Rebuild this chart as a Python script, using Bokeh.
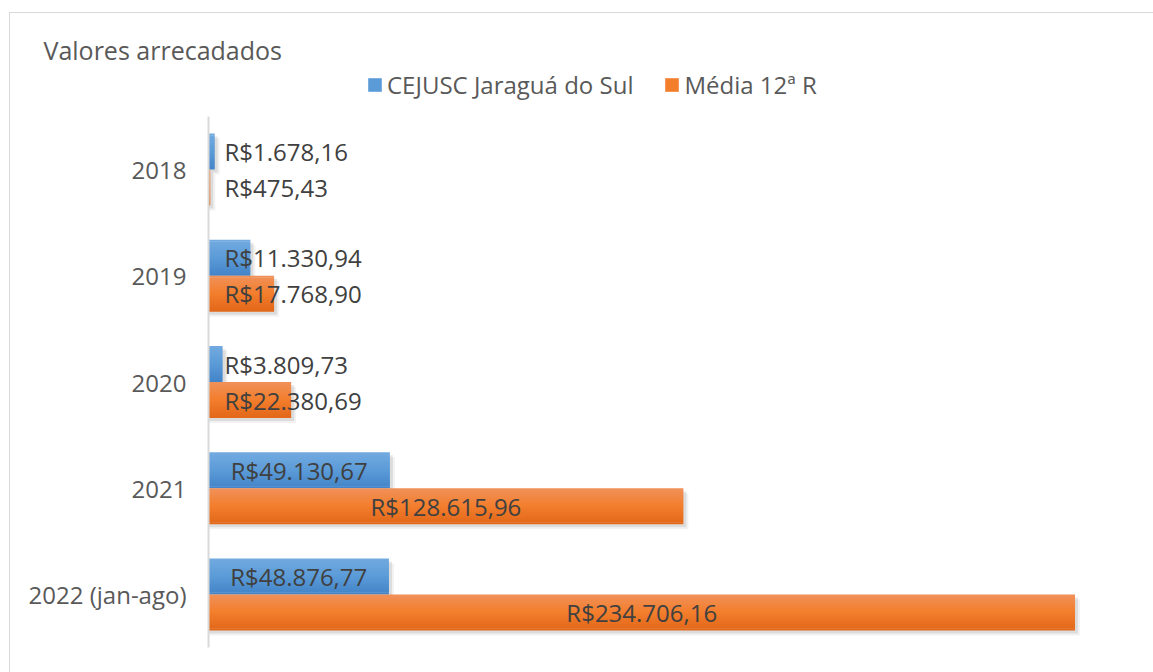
from bokeh.plotting import figure
from bokeh.layouts import column
from bokeh.models import (FactorRange, Range1d, ColumnDataSource, Legend,
                          LegendItem, Label)
from bokeh.core.properties import value
from bokeh.transform import dodge
from bokeh.embed import file_html
from bokeh.resources import INLINE

# ---------------- data ----------------
categories = ["2018", "2019", "2020", "2021", "2022 (jan-ago)"]
cejusc = [1678.16, 11330.94, 3809.73, 49130.67, 48876.77]
media = [475.43, 17768.90, 22380.69, 128615.96, 234706.16]
series_names = ["CEJUSC Jaraguá do Sul", "Média 12ª R"]
title_text = "Valores arrecadados"

# ---------------- layout (page pixels) ----------------
OX, OY = 10, 13                 # content origin inside the chart outline
W = 1153 - OX
TOP_H = 116 - OY                # header strip (title + legend)
H = 672 - 116                   # plot strip
ML, MT = 208 - OX, 0
MR, MB = W - (1131 - OX), 672 - 647
XMAX = 250000
FRAME_W = W - ML - MR
FRAME_H = H - MT - MB
UPP = XMAX / FRAME_W
BAND_PX = FRAME_H / len(categories)
BAR_H = 36 / BAND_PX
FONT = "Open Sans"
TEXT = "#595959"

def brl(v):
    s = f"{v:,.2f}"
    return "R$" + s.replace(",", "_").replace(".", ",").replace("_", ".")

def hex2rgb(h):
    h = h.lstrip("#")
    return [int(h[i:i + 2], 16) for i in (0, 2, 4)]

def grad(stops, n):
    out = []
    for i in range(n):
        t = i / (n - 1)
        seg = min(int(t * (len(stops) - 1)), len(stops) - 2)
        lt = t * (len(stops) - 1) - seg
        a, b = hex2rgb(stops[seg]), hex2rgb(stops[seg + 1])
        c = [round(a[k] + (b[k] - a[k]) * lt) for k in range(3)]
        out.append("#%02x%02x%02x" % tuple(c))
    return out

blue_stops = ["#72aae0", "#5b9bd8", "#4485c9"]
orange_stops = ["#f09058", "#f37e2c", "#e3681a"]

# ---------------- header: title + legend ----------------
head = figure(width=W, height=TOP_H, x_range=Range1d(0, W), y_range=Range1d(TOP_H, 0),
              output_backend="svg", toolbar_location=None, title_location=None,
              x_axis_location=None, y_axis_location=None,
              min_border=0, min_border_left=0, min_border_right=0,
              min_border_top=0, min_border_bottom=0)
head.frame_align = False
head.outline_line_color = None
head.xgrid.visible = False
head.ygrid.visible = False
head.background_fill_color = "white"
head.border_fill_color = "white"

head.add_layout(Label(x=43 - OX, y=49 - OY, text=title_text, text_font=FONT,
                      text_font_size="25px", text_color=TEXT,
                      text_baseline="alphabetic"))

# legend swatches (zero-size marks only used for the legend glyphs)
leg_r = []
for stops in (blue_stops, orange_stops):
    leg_r.append(head.quad(left=[0], right=[0], top=[0], bottom=[0],
                           fill_color=grad(stops, 3)[1], line_color=None))
GW = 17
legend = Legend(items=[LegendItem(label=series_names[0], renderers=[leg_r[0]]),
                       LegendItem(label=series_names[1], renderers=[leg_r[1]])],
                orientation="horizontal", location=(366 - OX, TOP_H - (85 - OY) - 16),
                glyph_width=GW, glyph_height=GW, label_standoff=4, spacing=30,
                padding=0, margin=0, border_line_color=None,
                background_fill_alpha=0,
                label_text_font=FONT, label_text_font_size="24px",
                label_text_color=TEXT)
head.add_layout(legend)

# ---------------- bars ----------------
p = figure(width=W, height=H,
           y_range=FactorRange(factors=categories[::-1], range_padding=0),
           x_range=Range1d(0, XMAX),
           output_backend="svg", toolbar_location=None, title_location=None,
           min_border_left=ML, min_border_right=MR,
           min_border_top=MT, min_border_bottom=MB)
p.frame_align = False
p.outline_line_color = None
p.background_fill_color = "white"
p.border_fill_color = "white"
p.xgrid.visible = False
p.ygrid.visible = False
p.xaxis.visible = False

yax = p.yaxis[0]
yax.axis_line_color = "#d9d9d9"
yax.axis_line_width = 2
yax.major_tick_line_color = None
yax.minor_tick_line_color = None
yax.major_tick_out = 0
yax.major_tick_in = 0
yax.major_label_standoff = 22
yax.major_label_text_font = FONT
yax.major_label_text_font_size = "24px"
yax.major_label_text_color = TEXT

series = [(cejusc, BAR_H / 2, blue_stops), (media, -BAR_H / 2, orange_stops)]
N = 18

for vals, off, _ in series:
    for dpx, alpha in ((5, 0.05), (3, 0.09)):
        src = ColumnDataSource(dict(cat=categories,
                                    r=[v + dpx * UPP for v in vals]))
        p.hbar(y=dodge("cat", off - dpx / BAND_PX, range=p.y_range),
               left=0, right="r", height=BAR_H, source=src,
               fill_color="#000000", fill_alpha=alpha, line_color=None)

for vals, off, stops in series:
    cols = grad(stops, N)
    src = ColumnDataSource(dict(cat=categories, val=vals))
    for i in range(N):
        c = off + BAR_H / 2 - (i + 0.5) * BAR_H / N
        hh = BAR_H / N + (0.006 if 0 < i < N - 1 else 0)
        p.hbar(y=dodge("cat", c, range=p.y_range), left=0, right="val",
               height=hh, source=src, fill_color=cols[i], line_color=None)

for vals, off, _ in series:
    big = [v >= 40000 for v in vals]
    src_c = ColumnDataSource(dict(cat=[c for c, b in zip(categories, big) if b],
                                  x=[v / 2 for v, b in zip(vals, big) if b],
                                  t=[brl(v) for v, b in zip(vals, big) if b]))
    src_l = ColumnDataSource(dict(cat=[c for c, b in zip(categories, big) if not b],
                                  x=[0 for v, b in zip(vals, big) if not b],
                                  t=[brl(v) for v, b in zip(vals, big) if not b]))
    p.text(x="x", y=dodge("cat", off, range=p.y_range), text="t", source=src_c,
           text_align="center", text_baseline="middle",
           text_font=value(FONT), text_font_size="24px", text_color="#404040")
    p.text(x="x", y=dodge("cat", off, range=p.y_range), text="t", source=src_l,
           x_offset=16, text_align="left", text_baseline="middle",
           text_font=value(FONT), text_font_size="24px", text_color="#404040")

layout = column(head, p, spacing=0,
                styles={"margin-left": f"{OX - 1}px", "margin-top": f"{OY - 1}px",
                        "border-left": "1px solid #d9d9d9",
                        "border-top": "1px solid #d9d9d9"})

open("out.html", "w").write(file_html(layout, INLINE))
